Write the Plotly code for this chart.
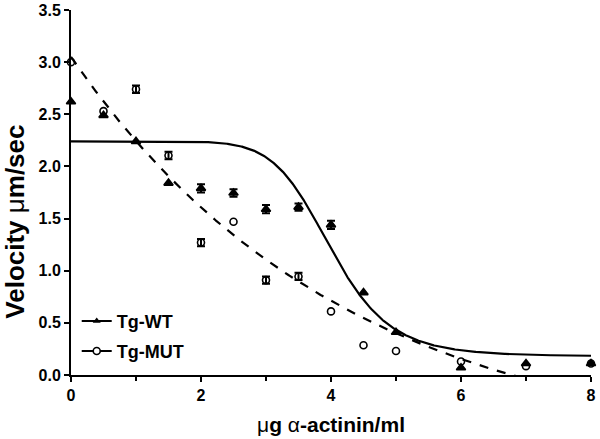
import numpy as np
import plotly.graph_objects as go

# ---- data ----
conc = [0, 0.5, 1, 1.5, 2, 2.5, 3, 3.5, 4, 4.5, 5, 6, 7, 8]
wt_vel = [2.62, 2.49, 2.24, 1.84, 1.79, 1.745, 1.59, 1.61, 1.44, 0.79, 0.41, 0.07, 0.11, 0.11]
wt_err = [0, 0, 0, 0, 0.04, 0.035, 0.04, 0.035, 0.04, 0, 0, 0, 0, 0]
mut_vel = [3.00, 2.53, 2.74, 2.105, 1.27, 1.47, 0.91, 0.945, 0.61, 0.285, 0.23, 0.13, 0.085, 0.11]
mut_err = [0, 0, 0.035, 0.035, 0.035, 0, 0.035, 0.035, 0, 0, 0, 0, 0, 0]

# fitted curve parameters (sigmoid for WT, one-phase decay for MUT)
wt_top, wt_bottom, wt_ec50, wt_hill = 2.24, 0.18, 4.0, 8.8
mut_y0, mut_plateau, mut_k = 3.05, -0.76, 0.238

x_ticks = [0, 2, 4, 6, 8]
y_ticks = [0.0, 0.5, 1.0, 1.5, 2.0, 2.5, 3.0, 3.5]

FONT = "Liberation Sans, Arial, sans-serif"

xf = np.linspace(0, 8, 801)
wt_fit = wt_bottom + (wt_top - wt_bottom) / (1 + (xf / wt_ec50) ** wt_hill)
mut_fit = (mut_y0 - mut_plateau) * np.exp(-mut_k * xf) + mut_plateau

fig = go.Figure()

fig.add_trace(go.Scatter(x=xf, y=mut_fit, mode="lines", showlegend=False,
                         line=dict(color="black", width=2.2, dash="dash")))
fig.add_trace(go.Scatter(x=xf, y=wt_fit, mode="lines", showlegend=False,
                         line=dict(color="black", width=2.2)))


def split(xs, ys, es):
    a = [(x, y, e) for x, y, e in zip(xs, ys, es) if e > 0]
    b = [(x, y) for x, y, e in zip(xs, ys, es) if e <= 0]
    return a, b


for ys, es, sym, col in [(mut_vel, mut_err, "circle-open", "black"),
                         (wt_vel, wt_err, "triangle-up", "black")]:
    with_err, no_err = split(conc, ys, es)
    mk = dict(symbol=sym, size=7 if sym == "circle-open" else 8, color=col,
              line=dict(color=col, width=1.6))
    fig.add_trace(go.Scatter(x=[p[0] for p in no_err], y=[p[1] for p in no_err],
                             mode="markers", marker=mk, showlegend=False, cliponaxis=False))
    fig.add_trace(go.Scatter(x=[p[0] for p in with_err], y=[p[1] for p in with_err],
                             mode="markers", marker=mk, showlegend=False, cliponaxis=False,
                             error_y=dict(type="data", array=[p[2] for p in with_err],
                                          color=col, thickness=2, width=4)))

# legend entries
fig.add_trace(go.Scatter(x=[None], y=[None], mode="lines+markers", name="Tg-WT",
                         line=dict(color="black", width=2),
                         marker=dict(symbol="triangle-up", size=7, color="black"),
                         legend="legend"))
fig.add_trace(go.Scatter(x=[None], y=[None], mode="lines+markers", name="Tg-MUT",
                         line=dict(color="black", width=2),
                         marker=dict(symbol="circle", size=7, color="white",
                                     line=dict(color="black", width=1.6)),
                         legend="legend2"))

axis_common = dict(showline=True, linecolor="black", linewidth=2, ticks="outside",
                   ticklen=5, tickwidth=2, tickcolor="black", showgrid=False,
                   zeroline=False, mirror=False, automargin=False,
                   tickfont=dict(family=FONT, size=16, color="black", weight="bold"))

fig.update_xaxes(range=[0, 8], tickvals=x_ticks, ticktext=[str(v) for v in x_ticks],
                 minor=dict(ticks="outside", dtick=1, ticklen=4, tickwidth=2, tickcolor="black"),
                 title=dict(text="<span style='font-weight:normal'>μ</span>g "
                                 "<span style='font-weight:normal'>α</span>-actinin/ml",
                            font=dict(family=FONT, size=21, color="black", weight="bold"),
                            standoff=14),
                 **axis_common)
fig.update_yaxes(range=[0, 3.5], tickvals=y_ticks, ticktext=[f"{v:.1f}" for v in y_ticks],
                 **axis_common)

# y-axis title placed as in the reference (slightly below the axis centre)
fig.add_annotation(text="Velocity <span style='font-weight:normal'>μ</span>m/sec",
                   textangle=-90, xref="paper", yref="paper",
                   x=(15 - 71) / 520, y=(375.5 - 222) / 365.5,
                   xanchor="center", yanchor="middle", showarrow=False,
                   font=dict(family=FONT, size=26, color="black", weight="bold"))

leg_common = dict(font=dict(family=FONT, size=18, color="black", weight="bold"),
                  bgcolor="rgba(0,0,0,0)", xanchor="left", yanchor="middle",
                  itemwidth=30)
fig.update_layout(
    width=600, height=439,
    margin=dict(l=71, r=9, t=10, b=64),
    plot_bgcolor="white", paper_bgcolor="white",
    legend=dict(x=0.011, y=(375.5 - 321.7) / 365.5, **leg_common),
    legend2=dict(x=0.011, y=(375.5 - 351.7) / 365.5, **leg_common),
)

fig.write_html("out.html", config={"displayModeBar": False},
               post_script="document.body.style.margin='0';")
